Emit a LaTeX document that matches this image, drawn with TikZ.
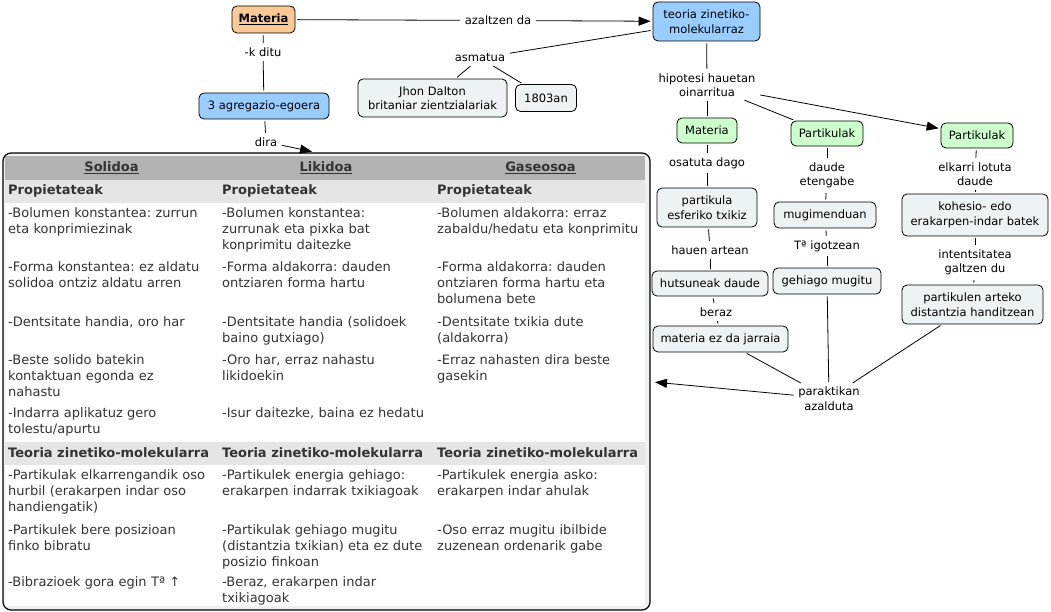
\documentclass[tikz,border=0pt]{standalone}
\usepackage{fontspec}
\setmainfont{DejaVu Sans}
\usetikzlibrary{arrows.meta}
\frenchspacing

\definecolor{orangec}{RGB}{250,201,150}
\definecolor{bluec}{RGB}{153,204,255}
\definecolor{greenc}{RGB}{204,255,204}
\definecolor{greyc}{RGB}{237,242,245}
\definecolor{headc}{RGB}{178,178,178}
\definecolor{subc}{RGB}{229,229,229}
\definecolor{framec}{RGB}{238,240,242}
\definecolor{textc}{RGB}{51,51,51}

\tikzset{
	concept/.style={draw, rounded corners=5pt, line width=0.8pt, align=center, inner sep=1pt, font=\fontsize{11.5}{14.5}\selectfont},
	topconcept/.style={concept, font=\fontsize{11.5}{14.5}\selectfont\bfseries},
	linkword/.style={align=center, inner sep=2.5pt, font=\fontsize{11.5}{14.5}\selectfont},
	link/.style={line width=0.8pt, shorten >=2pt, shorten <=2pt},
	arrowlink/.style={link, -{Triangle[length=12pt,width=9pt]}},
	cell/.style={anchor=base west, text width=216pt, align=left, inner sep=0pt, text=textc, font=\fontsize{13}{16}\selectfont},
	headcell/.style={anchor=base, inner sep=0pt, text=textc, font=\fontsize{13}{16}\selectfont\bfseries},
	subcell/.style={anchor=base west, inner sep=0pt, text=textc, font=\fontsize{13}{16}\selectfont\bfseries}
}

\begin{document}
\begin{tikzpicture}[x=1pt,y=-1pt]
	\useasboundingbox (0,0) rectangle (1051,612);

	% table
	\fill[framec, rounded corners=8pt] (3,153) rectangle (650,610);
	\fill[white] (5,156) rectangle (645,606);
	\fill[headc] (5,156) rectangle (645,180);
	\fill[subc] (5,180) rectangle (645,203);
	\fill[subc] (5,442) rectangle (645,465);
	\draw[line width=1.2pt, rounded corners=8pt] (3,153) rectangle (650,610);

	\node[headcell]	(hs)	at (111.5,171.5)	{\underline{Solidoa}};
	\node[headcell]	(hl)	at (326,171.5)		{\underline{Likidoa}};
	\node[headcell]	(hg)	at (540.5,171.5)	{\underline{Gaseosoa}};

	\node[subcell]	(ps)	at (8,195)		{Propietateak};
	\node[subcell]	(pl)	at (222,195)	{Propietateak};
	\node[subcell]	(pg)	at (437,195)	{Propietateak};

	\node[cell]	(s1)	at (8,217.5)	{-Bolumen konstantea: zurrun\\eta konprimiezinak};
	\node[cell]	(s2)	at (8,271.5)	{-Forma konstantea: ez aldatu\\solidoa ontziz aldatu arren};
	\node[cell]	(s3)	at (8,326)		{-Dentsitate handia, oro har};
	\node[cell]	(s4)	at (8,364)		{-Beste solido batekin\\kontaktuan egonda ez\\nahastu};
	\node[cell]	(s5)	at (8,417.5)	{-Indarra aplikatuz gero\\tolestu/apurtu};

	\node[cell]	(l1)	at (222,217.5)	{-Bolumen konstantea:\\zurrunak eta pixka bat\\konprimitu daitezke};
	\node[cell]	(l2)	at (222,271.5)	{-Forma aldakorra: dauden\\ontziaren forma hartu};
	\node[cell]	(l3)	at (222,326)	{-Dentsitate handia (solidoek\\baino gutxiago)};
	\node[cell]	(l4)	at (222,364)	{-Oro har, erraz nahastu\\likidoekin};
	\node[cell]	(l5)	at (222,417.5)	{-Isur daitezke, baina ez hedatu};

	\node[cell]	(g1)	at (437,217.5)	{-Bolumen aldakorra: erraz\\zabaldu/hedatu eta konprimitu};
	\node[cell]	(g2)	at (437,271.5)	{-Forma aldakorra: dauden\\ontziaren forma hartu eta\\bolumena bete};
	\node[cell]	(g3)	at (437,326)	{-Dentsitate txikia dute\\(aldakorra)};
	\node[cell]	(g4)	at (437,364)	{-Erraz nahasten dira beste\\gasekin};

	\node[subcell]	(ts)	at (8,457.5)	{Teoria zinetiko-molekularra};
	\node[subcell]	(tl)	at (222,457.5)	{Teoria zinetiko-molekularra};
	\node[subcell]	(tg)	at (437,457.5)	{Teoria zinetiko-molekularra};

	\node[cell]	(s6)	at (8,479.5)	{-Partikulak elkarrengandik oso\\hurbil (erakarpen indar oso\\handiengatik)};
	\node[cell]	(s7)	at (8,534)		{-Partikulek bere posizioan\\finko bibratu};
	\node[cell]	(s8)	at (8,586.5)	{-Bibrazioek gora egin Tª ↑};

	\node[cell]	(l6)	at (222,479.5)	{-Partikulek energia gehiago:\\erakarpen indarrak txikiagoak};
	\node[cell]	(l7)	at (222,534)	{-Partikulak gehiago mugitu\\(distantzia txikian) eta ez dute\\posizio finkoan};
	\node[cell]	(l8)	at (222,586.5)	{-Beraz, erakarpen indar\\txikiagoak};

	\node[cell]	(g6)	at (437,479.5)	{-Partikulek energia asko:\\erakarpen indar ahulak};
	\node[cell]	(g7)	at (437,534)	{-Oso erraz mugitu ibilbide\\zuzenean ordenarik gabe};

	\coordinate (tablatop)		at (314,152);
	\coordinate (tablaeskuin)	at (653,382);

	% map
	\node[topconcept, fill=orangec, minimum width=63pt, minimum height=27pt]	(materia)	at (263.5,19.5)	{\underline{Materia}};
	\node[concept, fill=bluec, minimum width=107pt, minimum height=39pt]	(teoria)	at (706.5,21.5)	{teoria zinetiko-\\molekularraz};
	\node[linkword]	(azaltzen)	at (498,20.5)	{azaltzen da};
	\node[linkword]	(kditu)		at (263,52)		{-k ditu};
	\node[concept, fill=bluec, minimum width=130pt, minimum height=26pt]	(egoera)	at (264,106)	{3 agregazio-egoera};
	\node[linkword]	(dira)		at (266,142)	{dira};

	\node[linkword]	(asmatua)	at (480,58)		{asmatua};
	\node[concept, fill=greyc, minimum width=149pt, minimum height=38pt]	(dalton)	at (432.5,98)	{Jhon Dalton\\britaniar zientzialariak};
	\node[concept, fill=greyc, minimum width=61pt, minimum height=27pt]	(urtea)		at (546,98)		{1803an};

	\node[linkword]	(hipotesi)	at (707,85)		{hipotesi hauetan\\oinarritua};
	\node[concept, fill=greenc, minimum width=60pt, minimum height=25pt]	(materia2)		at (707,130.5)	{Materia};
	\node[concept, fill=greenc, minimum width=72pt, minimum height=25pt]	(partikulak1)	at (827,133.5)	{Partikulak};
	\node[concept, fill=greenc, minimum width=72pt, minimum height=25pt]	(partikulak2)	at (977,135.5)	{Partikulak};

	\node[linkword]	(osatuta)	at (707,163)	{osatuta dago};
	\node[concept, fill=greyc, minimum width=100pt, minimum height=39pt]	(esferiko)	at (707,207.5)	{partikula\\esferiko txikiz};
	\node[linkword]	(hauen)		at (710,250)	{hauen artean};
	\node[concept, fill=greyc, minimum width=116pt, minimum height=25pt]	(hutsuneak)	at (710,283.5)	{hutsuneak daude};
	\node[linkword]	(beraz)		at (716,312)	{beraz};
	\node[concept, fill=greyc, minimum width=135pt, minimum height=26pt]	(jarraia)	at (720.5,339)	{materia ez da jarraia};

	\node[linkword]	(daude)		at (827,175.5)	{daude\\etengabe};
	\node[concept, fill=greyc, minimum width=102pt, minimum height=26pt]	(mugimendu)	at (825,215)	{mugimenduan};
	\node[linkword]	(igotzean)	at (827,246)	{Tª igotzean};
	\node[concept, fill=greyc, minimum width=108pt, minimum height=26pt]	(mugitu)	at (827,281)	{gehiago mugitu};

	\node[linkword]	(elkarri)	at (975,174)	{elkarri lotuta\\daude};
	\node[concept, fill=greyc, minimum width=146pt, minimum height=42pt]	(kohesio)	at (975,215)	{kohesio- edo\\erakarpen-indar batek};
	\node[linkword]	(intentsitatea)	at (975,262.5)	{intentsitatea\\galtzen du};
	\node[concept, fill=greyc, minimum width=141pt, minimum height=39pt]	(distantzia)	at (972.5,304.5)	{partikulen arteko\\distantzia handitzean};

	\node[linkword]	(praktikan)	at (829,398.5)	{paraktikan\\azalduta};

	\draw[link] (materia) -- (azaltzen);
	\draw[arrowlink] (azaltzen) -- (teoria);
	\draw[link] (materia) -- (kditu);
	\draw[link] (kditu) -- (egoera);
	\draw[link] (egoera) -- (dira);
	\draw[arrowlink] (dira) -- (tablatop);

	\draw[link] (teoria) -- (asmatua);
	\draw[link] (asmatua) -- (dalton);
	\draw[link] (asmatua) -- (urtea);

	\draw[link] (teoria) -- (hipotesi);
	\draw[link] (hipotesi) -- (materia2);
	\draw[link] (hipotesi) -- (partikulak1);
	\draw[arrowlink] (hipotesi) -- (partikulak2);

	\draw[link] (materia2) -- (osatuta);
	\draw[link] (osatuta) -- (esferiko);
	\draw[link] (esferiko) -- (hauen);
	\draw[link] (hauen) -- (hutsuneak);
	\draw[link] (hutsuneak) -- (beraz);
	\draw[link] (beraz) -- (jarraia);

	\draw[link] (partikulak1) -- (daude);
	\draw[link] (daude) -- (mugimendu);
	\draw[link] (mugimendu) -- (igotzean);
	\draw[link] (igotzean) -- (mugitu);

	\draw[link] (partikulak2) -- (elkarri);
	\draw[link] (elkarri) -- (kohesio);
	\draw[link] (kohesio) -- (intentsitatea);
	\draw[link] (intentsitatea) -- (distantzia);

	\draw[link] (jarraia) -- (praktikan);
	\draw[link] (mugitu) -- (praktikan);
	\draw[link] (distantzia) -- (praktikan);
	\draw[arrowlink] (praktikan) -- (tablaeskuin);
\end{tikzpicture}
\end{document}
